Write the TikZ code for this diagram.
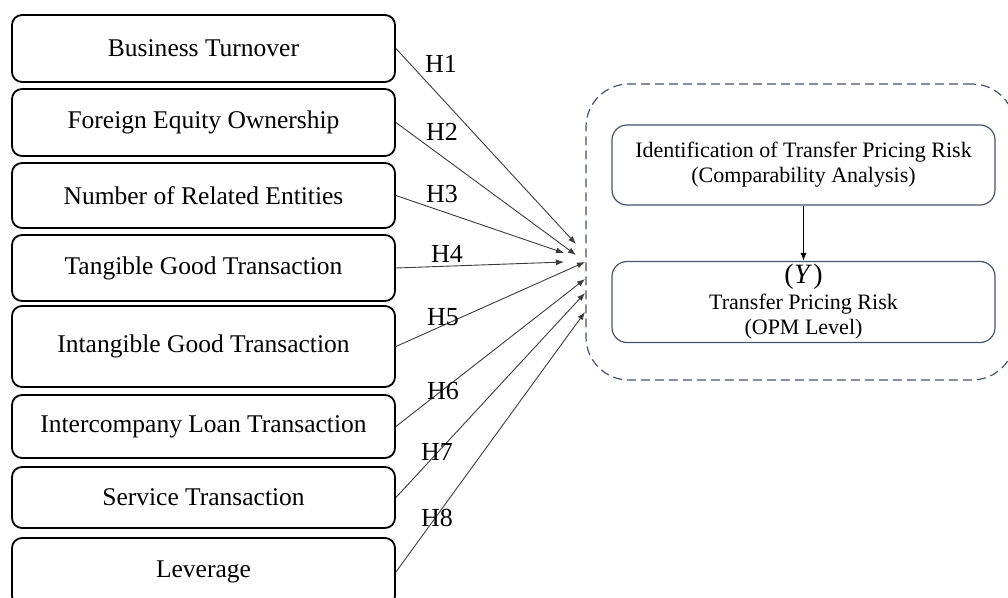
\documentclass[tikz,border=0pt]{standalone}
\usepackage{fontspec}
\setmainfont{Liberation Serif}
\usetikzlibrary{arrows.meta}
\definecolor{bluegray}{RGB}{68,84,106}
\definecolor{arrowgray}{RGB}{60,60,60}
\begin{document}
\begin{tikzpicture}[x=1pt,y=-1pt,
  varbox/.style={draw=black,line width=1.8pt,rounded corners=10pt,minimum width=383pt,inner sep=0pt,font=\fontsize{25.5}{30}\selectfont},
  innerbox/.style={draw=bluegray,line width=1.2pt,rounded corners=15pt,minimum width=383pt,inner sep=0pt,align=center,font=\fontsize{22}{25}\selectfont},
  groupbox/.style={draw=bluegray,line width=1.2pt,dash pattern=on 9pt off 5pt,rounded corners=43pt,minimum width=429pt,minimum height=296pt,inner sep=0pt},
  hyp/.style={draw=arrowgray,line width=0.9pt,-{Latex[length=8pt,width=6pt]}},
  hlab/.style={inner sep=0pt,font=\fontsize{26}{30}\selectfont},
  link/.style={draw=black,line width=1pt,-{Latex[length=8pt,width=6pt]}}
]
\useasboundingbox (0,0) rectangle (1008,597);

% left variable boxes
\node[varbox,minimum height=67pt] (b1) at (203.5,48.5) {Business Turnover};
\node[varbox,minimum height=67pt] (b2) at (203.5,122.5) {Foreign Equity Ownership};
\node[varbox,minimum height=65pt] (b3) at (203.5,195.5) {Number of Related Entities};
\node[varbox,minimum height=66pt] (b4) at (203.5,268) {Tangible Good Transaction};
\node[varbox,minimum height=81pt] (b5) at (203.5,346.5) {Intangible Good Transaction};
\node[varbox,minimum height=63pt] (b6) at (203.5,426.5) {Intercompany Loan Transaction};
\node[varbox,minimum height=61pt] (b7) at (203.5,497.5) {Service Transaction};
\node[varbox,minimum height=68pt] (b8) at (203.5,572) {Leverage};

% right group
\node[groupbox] (grp) at (800.5,232) {};
\node[innerbox,minimum height=80pt] (r1) at (803.5,165) {Identification of Transfer Pricing Risk\\(Comparability Analysis)};
\node[innerbox,minimum height=81pt] (r2) at (803.5,302) {{\fontsize{28}{29}\selectfont(\kern0.5pt\textit{Y}\kern1pt)}\\[1pt]Transfer Pricing Risk\\(OPM Level)};
\draw[link] (r1.south) -- (r2.north);

% arrow end points
\coordinate (t1) at (576,244);
\coordinate (t2) at (576,255);
\coordinate (t3) at (564,253);
\coordinate (t4) at (564,262);
\coordinate (t5) at (585,262);
\coordinate (t6) at (585,279);
\coordinate (t7) at (585,293);
\coordinate (t8) at (585,312);

\draw[hyp] (b1.east) -- (t1);
\draw[hyp] (b2.east) -- (t2);
\draw[hyp] (b3.east) -- (t3);
\draw[hyp] (b4.east) -- (t4);
\draw[hyp] (b5.east) -- (t5);
\draw[hyp] (b6.east) -- (t6);
\draw[hyp] (b7.east) -- (t7);
\draw[hyp] (b8.east) -- (t8);

% hypothesis labels
\node[hlab] (h1) at (441,64) {H1};
\node[hlab] (h2) at (442,132) {H2};
\node[hlab] (h3) at (442,194) {H3};
\node[hlab] (h4) at (447,254) {H4};
\node[hlab] (h5) at (443,317) {H5};
\node[hlab] (h6) at (443,391) {H6};
\node[hlab] (h7) at (437,452) {H7};
\node[hlab] (h8) at (437,518) {H8};
\end{tikzpicture}
\end{document}
